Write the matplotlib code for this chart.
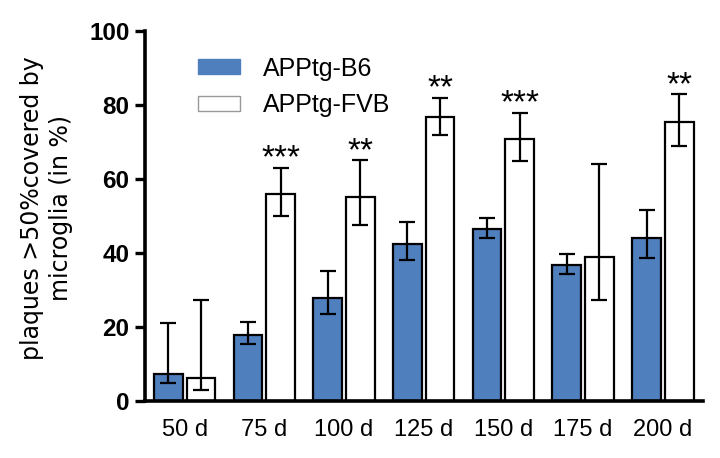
import matplotlib.pyplot as plt
import numpy as np
from matplotlib.patches import Patch

plt.rcParams['font.family'] = ['Liberation Sans', 'DejaVu Sans']

# Data
days = ['50 d', '75 d', '100 d', '125 d', '150 d', '175 d', '200 d']
b6 = [7.3, 17.8, 27.8, 42.5, 46.6, 36.7, 44.1]
b6_low = [4.9, 15.4, 23.4, 38.0, 44.1, 34.2, 38.7]
b6_high = [21.0, 21.4, 35.2, 48.3, 49.5, 39.7, 51.6]
fvb = [6.1, 56.0, 55.2, 76.8, 70.9, 38.9, 75.4]
fvb_low = [3.0, 50.0, 47.5, 71.9, 64.9, 27.3, 68.9]
fvb_high = [27.3, 63.1, 65.1, 82.0, 77.9, 64.1, 82.9]
stars = ['', '***', '**', '**', '***', '', '**']

x = np.arange(len(days))
w = 0.36
off = 0.205
blue = '#4F7FBD'

fig = plt.figure(figsize=(7.2, 4.58), dpi=100)
ax = fig.add_axes([0.201, 0.1245, 0.775, 0.8075])

err_kw = dict(ecolor='black', elinewidth=1.6, capsize=6, capthick=1.6)
b6_err = [np.array(b6) - np.array(b6_low), np.array(b6_high) - np.array(b6)]
fvb_err = [np.array(fvb) - np.array(fvb_low), np.array(fvb_high) - np.array(fvb)]

ax.bar(x - off, b6, w, color=blue, edgecolor='black', linewidth=1.6,
       yerr=b6_err, error_kw=err_kw)
ax.bar(x + off, fvb, w, color='white', edgecolor='black', linewidth=1.6,
       yerr=fvb_err, error_kw=err_kw)

# significance stars above the FVB bars
for xi, hi, s in zip(x, fvb_high, stars):
    if s:
        ax.text(xi + off, hi - 1.8, s, ha='center', va='bottom', fontsize=24)

ax.set_xlim(-0.5, 6.5)
ax.set_ylim(0, 100)
ax.set_yticks([0, 20, 40, 60, 80, 100])
ax.set_xticks(x)
ax.set_xticklabels(days, fontsize=17)
for lbl in ax.get_yticklabels():
    lbl.set_fontsize(17.5)
    lbl.set_fontweight('bold')

ax.spines['top'].set_visible(False)
ax.spines['right'].set_visible(False)
ax.spines['left'].set_linewidth(2.6)
ax.spines['bottom'].set_linewidth(2.6)
ax.tick_params(axis='y', direction='out', length=7, width=2.4, pad=4)
ax.tick_params(axis='x', length=0, pad=13)

ax.set_ylabel('plaques >50%covered by\nmicroglia (in %)', fontsize=17,
              family='DejaVu Sans', linespacing=1.25)
ax.yaxis.set_label_coords(-0.129, 0.522)

handles = [Patch(facecolor=blue, edgecolor=blue, label='APPtg-B6'),
           Patch(facecolor='white', edgecolor='#999999', label='APPtg-FVB')]
ax.legend(handles=handles, loc='upper left', bbox_to_anchor=(0.095, 0.931),
          frameon=False, fontsize=18, handlelength=1.7, handleheight=0.56,
          handletextpad=0.9, labelspacing=0.5, borderpad=0, borderaxespad=0)

fig.savefig('out.png', dpi=100)
